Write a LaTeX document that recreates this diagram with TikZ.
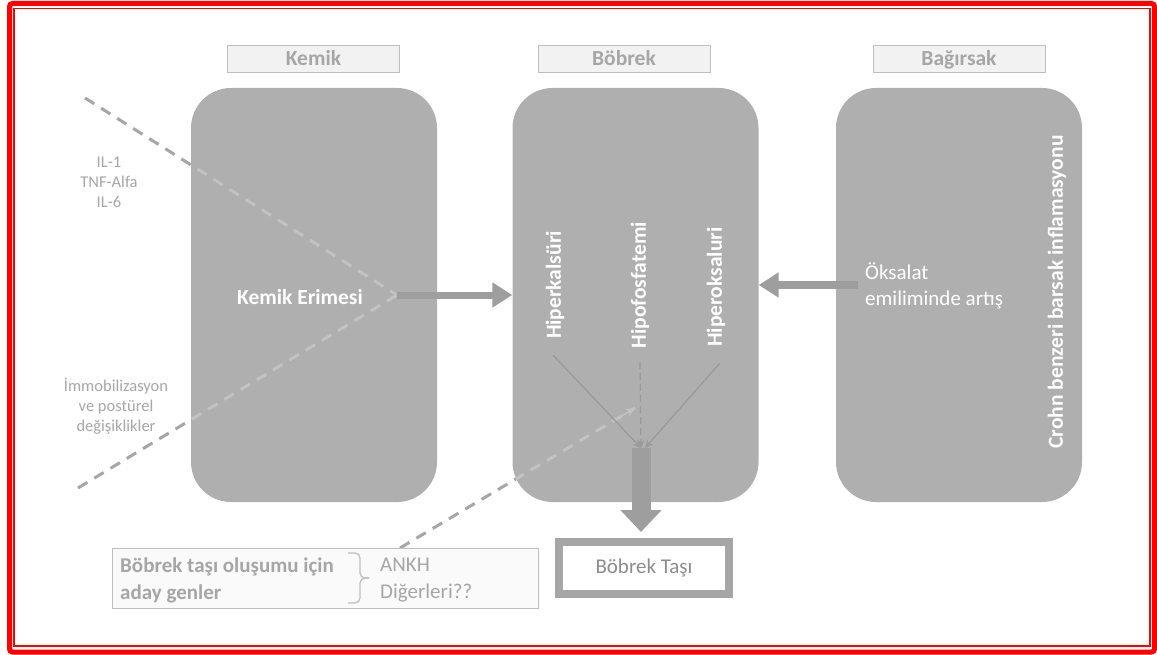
\documentclass[tikz,border=0pt]{standalone}
\usepackage{fontspec}
\setmainfont{Carlito}
\usetikzlibrary{arrows.meta,calc}
\definecolor{boxgray}{HTML}{AFAFAF}
\definecolor{hdrfill}{HTML}{F2F2F2}
\definecolor{hdrline}{HTML}{BFBFBF}
\definecolor{txtgray}{HTML}{A6A6A6}
\definecolor{arrgray}{HTML}{9E9E9E}
\definecolor{dashin}{HTML}{C2C2C2}
\definecolor{thinline}{HTML}{9A9A9A}
\definecolor{framered}{HTML}{FF0000}
\tikzset{
  hdr/.style={draw=hdrline, fill=hdrfill, line width=1pt, minimum width=172pt, minimum height=27pt,
    inner sep=0pt, text height=14.5pt, text depth=2pt, text=txtgray, font=\fontsize{21.5}{25}\selectfont\bfseries},
  bigbox/.style={fill=boxgray, draw=none, rounded corners=40pt, minimum width=246pt, minimum height=414pt, inner sep=0pt},
  whitebold/.style={text=white, font=\fontsize{21.5}{25}\selectfont\bfseries, inner sep=0pt},
  vtext/.style={whitebold, rotate=90},
  sidetext/.style={text=txtgray, font=\fontsize{16.5}{20}\selectfont, align=center, inner sep=0pt},
  dashout/.style={draw=txtgray, line width=3pt, dash pattern=on 11pt off 8pt},
  dashinside/.style={draw=dashin, line width=3pt, dash pattern=on 11pt off 8pt},
  bigarrow/.style={draw=arrgray, line width=7pt, -{Triangle[length=20pt,width=24pt]}},
  thinarrow/.style={draw=thinline, line width=1.3pt, -{Stealth[length=8pt,width=7pt]}},
  bracestyle/.style={draw=hdrline, line width=1.2pt, rounded corners=5pt},
}
\begin{document}
\begin{tikzpicture}[x=1pt,y=-1pt]
\useasboundingbox (0,0) rectangle (1157,655);
% frame
\draw[framered, line width=5pt, rounded corners=3pt] (9.5,3.5) rectangle (1154.5,652);
\draw[framered, line width=1.2pt] (14,8.5) rectangle (1150,646);

% dashed inputs (outside)
\coordinate (d1) at (85,98);
\coordinate (d2) at (78,488);
\coordinate (cx) at (397,295);
\coordinate (gstart) at (400,548);
\coordinate (gend) at (635,408);
\draw[dashout] (d1) -- (cx);
\draw[dashout] (d2) -- (cx);
\draw[dashout] (gstart) -- (gend);

% headers
\node[hdr] (hK) at (313.5,59.5) {Kemik};
\node[hdr] (hB) at (624,59.5) {Böbrek};
\node[hdr] (hG) at (959,59.5) {Bağırsak};

% big boxes
\node[bigbox] (K) at (314,295) {};
\node[bigbox] (B) at (635.5,295) {};
\node[bigbox] (G) at (959,295) {};

% dashed lines inside boxes (lighter)
\begin{scope}
\clip[rounded corners=40pt] (K.north west) rectangle (K.south east);
\draw[dashinside] (d1) -- (cx);
\draw[dashinside] (d2) -- (cx);
\end{scope}
\begin{scope}
\clip[rounded corners=40pt] (B.north west) rectangle (B.south east);
\draw[dashinside] (gstart) -- (gend);
\end{scope}
\draw[draw=dashin, line width=1.5pt, -{Stealth[length=9pt,width=8pt]}] ($(gstart)!0.93!(gend)$) -- (gend);

% texts in boxes
\node[whitebold] (ke) at (300,297) {Kemik Erimesi};
\node[vtext] (h1) at (555,285) {Hiperkalsüri};
\node[vtext] (h2) at (640,285) {Hipofosfatemi};
\node[vtext] (h3) at (716,287) {Hiperoksaluri};
\node[vtext] (cr) at (1057,292) {Crohn benzeri barsak inflamasyonu};
\node[text=white, font=\fontsize{21}{26}\selectfont, align=left, anchor=west, inner sep=0pt] (ok) at (865,286) {Öksalat\\emiliminde artış};

% side labels
\node[sidetext] (il) at (109,182) {IL-1\\TNF-Alfa\\IL-6};
\node[sidetext] (im) at (116,406) {İmmobilizasyon\\ve postürel\\değişiklikler};

% arrows
\draw[bigarrow] (cx) -- (cx -| B.west);
\coordinate (oks) at (858,285);
\draw[bigarrow] (oks) -- (oks -| B.east);

\coordinate (m) at (641,448);
\coordinate (s1) at (553,355);
\coordinate (s2) at (640,362);
\coordinate (s3) at (720,363);
\draw[thinarrow] (s1) -- (m);
\draw[thinarrow, dash pattern=on 7pt off 4pt] (s2) -- (m);
\draw[thinarrow] (s3) -- ([xshift=4pt]m);

% stone
\node[draw=txtgray, line width=8pt, fill=white, minimum width=170pt, minimum height=52pt, inner sep=0pt,
  text={rgb,255:red,140;green,140;blue,140}, font=\fontsize{21}{25}\selectfont] (tas) at (644,568) {Böbrek Taşı};
\draw[draw=arrgray, line width=19pt, -{Triangle[length=22pt,width=40pt]}, shorten >=6pt] (m) -- (m |- tas.north);

% genes box
\node[draw=hdrline, fill={rgb,255:red,250;green,250;blue,250}, line width=1pt, minimum width=426pt, minimum height=60pt, inner sep=0pt] (gen) at (325,578) {};
\node[text=txtgray, font=\fontsize{21}{27}\selectfont\bfseries, align=left, anchor=west, inner sep=0pt] (gt) at (120,580.5) {Böbrek taşı oluşumu için\\aday genler};
\draw[bracestyle] (348,553) -- (360,553) -- (360,578) -- (369,578);
\draw[bracestyle] (369,578) -- (360,578) -- (360,603) -- (348,603);
\node[text=txtgray, font=\fontsize{21}{27}\selectfont, align=left, anchor=west, inner sep=0pt] (ank) at (380,580.5) {ANKH\\Diğerleri??};
\end{tikzpicture}
\end{document}
